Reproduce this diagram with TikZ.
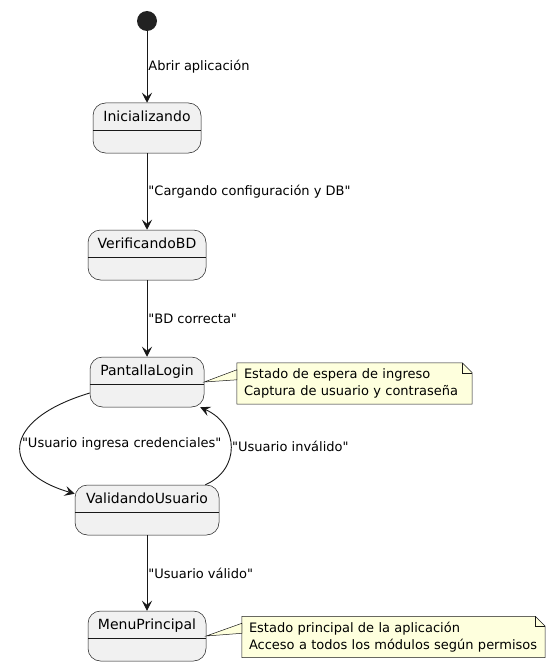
\documentclass[tikz,border=0pt]{standalone}
\usepackage{fontspec}
\setmainfont{DejaVu Sans}[Ligatures=TeXOff]
\usetikzlibrary{arrows.meta,backgrounds}
\definecolor{statefill}{HTML}{F1F1F1}
\definecolor{stateline}{HTML}{181818}
\definecolor{notefill}{HTML}{FEFFDD}
\definecolor{startfill}{HTML}{222222}

\begin{document}
\begin{tikzpicture}[x=1pt,y=-1pt,
  state/.style={draw=stateline,fill=statefill,line width=0.5pt,rounded corners=12.5pt,minimum height=50pt,inner sep=0pt},
  title/.style={font=\fontsize{14}{16}\selectfont,inner sep=0pt,anchor=base},
  trans/.style={-{Stealth[length=10pt,width=10pt,inset=4pt]},line width=0.9pt,draw=stateline},
  lbl/.style={font=\fontsize{13}{15}\selectfont,anchor=west,inner sep=1pt},
  note/.style={font=\fontsize{13}{17}\selectfont,align=left,inner xsep=7pt,inner ysep=0pt,minimum height=41pt},
  notebody/.style={draw=stateline,fill=notefill,line width=0.5pt}]
\useasboundingbox (0,0) rectangle (555,666);

% Start point
\node[circle,fill=startfill,minimum size=20pt,inner sep=0pt] (start) at (147,21) {};

% States
\node[state,minimum width=108pt] (ini) at (147,128) {};
\node[state,minimum width=118pt] (ver) at (147,255) {};
\node[state,minimum width=114pt] (login) at (147,382) {};
\node[state,minimum width=144pt] (val) at (147,510) {};
\node[state,minimum width=118pt] (menu) at (147,636) {};

% State names and header lines
\foreach \s/\t in {ini/Inicializando,ver/VerificandoBD,login/PantallaLogin,val/ValidandoUsuario,menu/MenuPrincipal} {
  \node[title] (\s-name) at ([yshift=-18.5pt]\s.north) {\t};
  \draw[stateline,line width=0.5pt] ([yshift=-27pt]\s.north west) -- ([yshift=-27pt]\s.north east);
}

% Transitions
\draw[trans] (start) -- (ini) node[lbl,midway] {Abrir aplicación};
\draw[trans] (ini) -- (ver) node[lbl,midway] {"Cargando configuración y DB"};
\draw[trans] (ver) -- (login) node[lbl,midway] {"BD correcta"};
\draw[trans] ([yshift=-11pt]login.west) .. controls (0,420) and (0,472) .. ([yshift=-9pt]val.north west)
  node[lbl,pos=0.5,yshift=1pt] {"Usuario ingresa credenciales"};
\draw[trans] ([xshift=-14pt]val.north east) .. controls (240,470) and (240,425) .. ([xshift=-4pt]login.south east)
  node[lbl,pos=0.5,yshift=1pt] {"Usuario inválido"};
\draw[trans] (val) -- (menu) node[lbl,midway] {"Usuario válido"};

% Notes
\node[note,text width=221pt] (n1) at (354.5,383.5) {Estado de espera de ingreso\\Captura de usuario y contraseña};
\node[note,text width=289pt] (n2) at (393.5,637) {Estado principal de la aplicación\\Acceso a todos los módulos según permisos};
\begin{scope}[on background layer]
\foreach \n in {n1,n2} {
  \draw[notebody] (\n.north west) -- ([xshift=-10pt]\n.north east) -- ([yshift=-10pt]\n.north east)
    -- (\n.south east) -- (\n.south west) -- cycle;
  \draw[stateline,line width=0.5pt] ([xshift=-10pt]\n.north east) -- ([xshift=-10pt,yshift=-10pt]\n.north east)
    -- ([yshift=-10pt]\n.north east);
}
\end{scope}
\draw[notebody] (login.east) -- ([yshift=-7pt]n1.north west) -- ([yshift=-17pt]n1.north west) -- cycle;
\draw[notebody] (menu.east) -- ([yshift=-7pt]n2.north west) -- ([yshift=-17pt]n2.north west) -- cycle;
\end{tikzpicture}
\end{document}
